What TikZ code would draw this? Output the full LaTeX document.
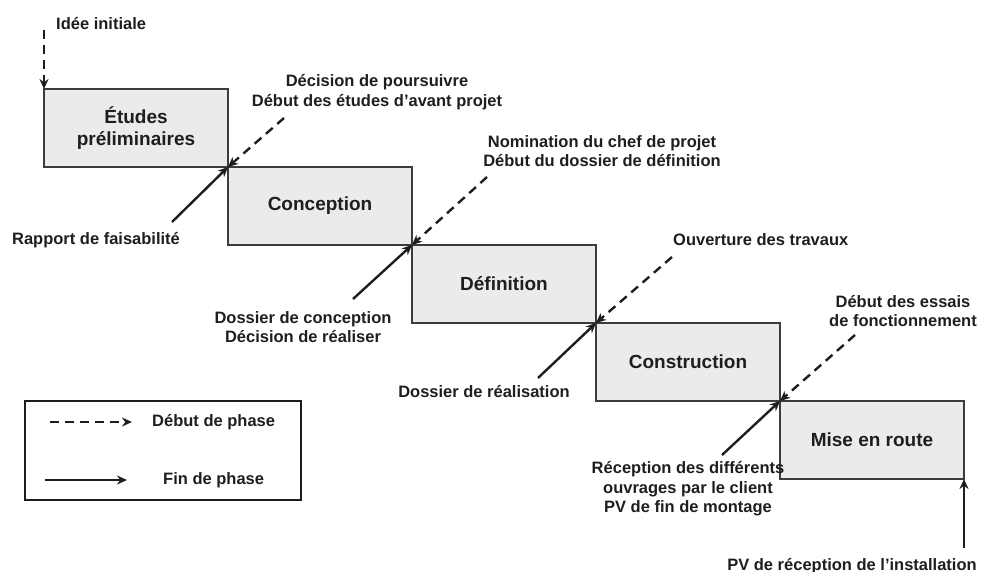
\documentclass[tikz,border=0pt]{standalone}
\usepackage{fontspec}
\setmainfont{Liberation Sans}
\definecolor{boxfill}{HTML}{EBEBEB}
\definecolor{boxline}{HTML}{3C3C3C}
\definecolor{ink}{HTML}{1E1E1E}
\usetikzlibrary{arrows.meta, positioning}

\begin{document}
\begin{tikzpicture}[
  x=1pt, y=-1pt,
  every node/.style={font=\fontsize{16.5}{19.5}\selectfont\bfseries, text=ink},
  phase/.style={draw=boxline, fill=boxfill, line width=2pt, outer sep=0pt,
                minimum width=184pt, minimum height=78pt, align=center,
                font=\fontsize{19}{22}\selectfont\bfseries},
  lbl/.style={align=center, inner sep=0pt},
  debut/.style={-{Stealth[length=10pt, width=9pt]}, line width=2.4pt, color=ink,
                dash pattern=on 9pt off 6pt},
  fin/.style={-{Stealth[length=10pt, width=9pt]}, line width=2.4pt, color=ink},
]
\useasboundingbox (0,0) rectangle (981,572);

% Phases en escalier
\node[phase] (etudes) at (136,128) {Études\\préliminaires};
\node[phase, below right=0pt and 0pt of etudes.south east]       (conception)   {Conception};
\node[phase, below right=0pt and 0pt of conception.south east]   (definition)   {Définition};
\node[phase, below right=0pt and 0pt of definition.south east]   (construction) {Construction};
\node[phase, below right=0pt and 0pt of construction.south east] (miseenroute)  {Mise en route};

% Textes — début de phase
\node[lbl, anchor=west] (idee) at (56,24) {Idée initiale};
\node[lbl] (poursuivre) at (377,92) {Décision de poursuivre\\Début des études d’avant projet};
\node[lbl] (nomination) at (602,151) {Nomination du chef de projet\\Début du dossier de définition};
\node[lbl, anchor=west] (ouverture) at (673,240) {Ouverture des travaux};
\node[lbl] (essais) at (903,311) {Début des essais\\de fonctionnement};

% Textes — fin de phase
\node[lbl] (faisab) at (96,240) {Rapport de faisabilité};
\node[lbl] (dossconc) at (303,327) {Dossier de conception\\Décision de réaliser};
\node[lbl] (dossreal) at (484,392) {Dossier de réalisation};
\node[lbl] (reception) at (688,489) {Réception des différents\\ouvrages par le client\\PV de fin de montage};
\node[lbl] (pvinst) at (852,566) {PV de réception de l’installation};

% Départs des flèches
\coordinate (d0) at (44,30);
\coordinate (d1) at (284,118);
\coordinate (d2) at (487,177);
\coordinate (d3) at (672,257);
\coordinate (d4) at (855,335);
\coordinate (f1) at (172,222);
\coordinate (f2) at (353,299);
\coordinate (f3) at (538,378);
\coordinate (f4) at (722,455);
\coordinate (f5) at (964,548);

% Flèches — début de phase
\draw[debut] (d0) -- (etudes.north west);
\draw[debut] (d1) -- (etudes.south east);
\draw[debut] (d2) -- (conception.south east);
\draw[debut] (d3) -- (definition.south east);
\draw[debut] (d4) -- (construction.south east);

% Flèches — fin de phase
\draw[fin] (f1) -- (etudes.south east);
\draw[fin] (f2) -- (conception.south east);
\draw[fin] (f3) -- (definition.south east);
\draw[fin] (f4) -- (construction.south east);
\draw[fin] (f5) -- (miseenroute.south east);

% Légende
\node[draw=ink, line width=1.8pt, minimum width=276pt, minimum height=99pt] (legende) at (163,450.5) {};
\coordinate (ld1) at (50,422);
\coordinate (ld2) at (132,422);
\coordinate (lf1) at (45,480);
\coordinate (lf2) at (127,480);
\draw[debut] (ld1) -- (ld2);
\draw[fin] (lf1) -- (lf2);
\node[lbl, anchor=west] (legdebut) at (152,422) {Début de phase};
\node[lbl, anchor=west] (legfin) at (163,480) {Fin de phase};

\end{tikzpicture}
\end{document}
